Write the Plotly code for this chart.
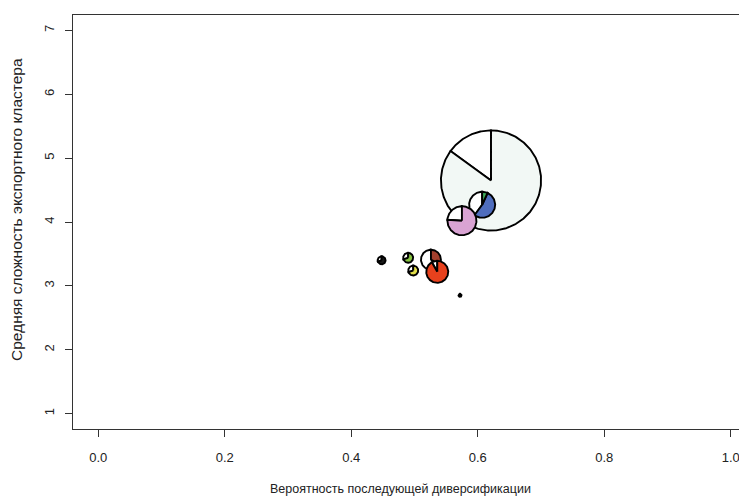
import numpy as np
import plotly.graph_objects as go

# ---- data ----
pie_x = [0.621, 0.607, 0.575, 0.526, 0.536, 0.448, 0.490, 0.498, 0.572]
pie_y = [4.65, 4.27, 4.02, 3.41, 3.22, 3.40, 3.44, 3.24, 2.85]
pie_r = [0.0792, 0.0206, 0.0230, 0.0158, 0.0174, 0.0063, 0.0079, 0.0079, 0.0024]
pie_shares = [
    [0.15, 0.85],
    [0.40, 0.53, 0.07],
    [0.24, 0.76],
    [0.67, 0.33],
    [0.08, 0.92],
    [0.30, 0.70],
    [0.30, 0.70],
    [0.30, 0.70],
    [1.00],
]
pie_colors = [
    ["#ffffff", "#f2f8f5"],
    ["#ffffff", "#4f6dbd", "#3dae5a"],
    ["#ffffff", "#d9a3d3"],
    ["#ffffff", "#a3402e"],
    ["#ffffff", "#e8411d"],
    ["#ffffff", "#1a1a1a"],
    ["#ffffff", "#86c440"],
    ["#ffffff", "#e3e04a"],
    ["#000000"],
]
x_ticks = [0.0, 0.2, 0.4, 0.6, 0.8, 1.0]
x_ticktext = ["0.0", "0.2", "0.4", "0.6", "0.8", "1.0"]
y_ticks = [1, 2, 3, 4, 5, 6, 7]
x_title = "Вероятность последующей диверсификации"
y_title = "Средняя сложность экспортного кластера"

# ---- layout geometry ----
W, H = 739, 498
ML, MR, MT, MB = 73, 0, 15, 69
x_range = [-0.04, -0.04 + 1.08 * (W - ML - MR) / 683.0]
y_range = [0.76, 7.24]
plot_w = W - ML - MR
plot_h = H - MT - MB
# y-units per x-unit so that pies are circular on screen
aspect = ((y_range[1] - y_range[0]) / plot_h) / ((x_range[1] - x_range[0]) / plot_w)

fig = go.Figure()
for cx, cy, r, shares, cols in zip(pie_x, pie_y, pie_r, pie_shares, pie_colors):
    start = np.pi / 2
    for s, c in zip(shares, cols):
        end = start + 2 * np.pi * s
        n = max(int(np.degrees(end - start)), 2)
        t = np.linspace(start, end, n)
        xs = np.concatenate([[cx], cx + r * np.cos(t), [cx]])
        ys = np.concatenate([[cy], cy + r * aspect * np.sin(t), [cy]])
        fig.add_trace(go.Scatter(
            x=xs, y=ys, mode="lines", fill="toself", fillcolor=c,
            line=dict(color="black", width=1.9), hoverinfo="skip",
            showlegend=False))
        start = end

tickfont = dict(family="Liberation Sans, Arial, sans-serif", size=13, color="#222222")
fig.update_layout(
    width=W, height=H,
    margin=dict(l=ML, r=MR, t=MT, b=MB, pad=0),
    plot_bgcolor="white", paper_bgcolor="white",
    xaxis=dict(range=x_range, tickvals=x_ticks, ticktext=x_ticktext,
               showgrid=False, zeroline=False, showline=True, linecolor="#333333",
               linewidth=1, mirror=True, ticks="outside", ticklen=7,
               tickcolor="#333333", tickfont=tickfont, ticklabelstandoff=9,
               ticklabeloverflow="allow"),
    yaxis=dict(range=y_range, tickvals=y_ticks, tickangle=-90,
               showgrid=False, zeroline=False, showline=True, linecolor="#333333",
               linewidth=1, mirror=False, ticks="outside", ticklen=7,
               tickcolor="#333333", tickfont=tickfont, ticklabelstandoff=6),
    annotations=[
        dict(text=x_title, xref="paper", yref="paper",
             x=(400 - ML) / plot_w, y=(H - MB - 489) / plot_h,
             showarrow=False, xanchor="center", yanchor="middle",
             font=dict(family="Liberation Sans, Arial, sans-serif", size=12.5, color="#222222")),
        dict(text=y_title, xref="paper", yref="paper", textangle=-90,
             x=(16 - ML) / plot_w, y=(H - MB - 210) / plot_h,
             showarrow=False, xanchor="center", yanchor="middle",
             font=dict(family="Liberation Sans, Arial, sans-serif", size=15.5, color="#222222")),
    ],
)
fig.write_html("out.html", config={"displayModeBar": False},
               post_script="document.body.style.margin='0';document.body.style.overflow='hidden';")
